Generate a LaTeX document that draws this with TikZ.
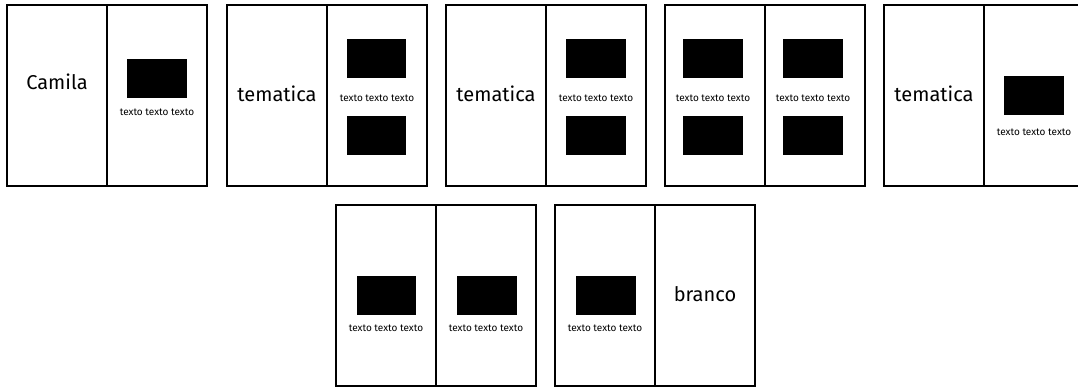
\documentclass[tikz,border=0pt]{standalone}
\usepackage{fontspec}
\setmainfont{Fira Sans}

\begin{document}
\begin{tikzpicture}[x=0.02cm, y=-0.02cm,
	pagina/.style={draw, line width=0.8pt},
	foto/.style={fill=black, inner sep=0pt, minimum width=1.2cm, minimum height=0.78cm},
	titulo/.style={font=\fontsize{11.4}{13}\selectfont, inner sep=0pt},
	legenda/.style={font=\fontsize{5.7}{7}\selectfont, inner sep=0pt}]
\useasboundingbox (0,0) rectangle (1078,387);
\clip (0,0) rectangle (1078,387);

	% Zeichnet die Doppelseiten oben und unten (linke und rechte Seite)
	\foreach \x in {7,227,446,665,884} {
		\draw[pagina] (\x,5) rectangle ++(200,181);
		\draw[pagina] (\x+100,5) -- (\x+100,186);
	}
	\foreach \x in {336,555} {
		\draw[pagina] (\x,205) rectangle ++(200,181);
		\draw[pagina] (\x+100,205) -- (\x+100,386);
	}

	% Doppelseite 1
	\node[titulo] (camila) at (57,82) {Camila};
	\node[foto] (foto1) at (157,78.5) {};
	\node[legenda] (legenda1) at (157,112) {texto texto texto};

	% Doppelseite 2
	\node[titulo] (tematica2) at (277,94) {tematica};
	\node[foto] (foto2a) at (376.5,58.5) {};
	\node[legenda] (legenda2) at (377,98) {texto texto texto};
	\node[foto] (foto2b) at (376.5,135.5) {};

	% Doppelseite 3
	\node[titulo] (tematica3) at (496,94) {tematica};
	\node[foto] (foto3a) at (595.5,58.5) {};
	\node[legenda] (legenda3) at (596,98) {texto texto texto};
	\node[foto] (foto3b) at (595.5,135.5) {};

	% Doppelseite 4
	\node[foto] (foto4a) at (712.5,58.5) {};
	\node[legenda] (legenda4a) at (713,98) {texto texto texto};
	\node[foto] (foto4b) at (712.5,135.5) {};
	\node[foto] (foto4c) at (812.5,58.5) {};
	\node[legenda] (legenda4b) at (813,98) {texto texto texto};
	\node[foto] (foto4d) at (812.5,135.5) {};

	% Doppelseite 5
	\node[titulo] (tematica5) at (934,94) {tematica};
	\node[foto] (foto5) at (1033.5,95.5) {};
	\node[legenda] (legenda5) at (1034,132) {texto texto texto};

	% Doppelseite 6 (unten)
	\node[foto] (foto6a) at (386.5,295.5) {};
	\node[legenda] (legenda6a) at (386,328) {texto texto texto};
	\node[foto] (foto6b) at (486.5,295.5) {};
	\node[legenda] (legenda6b) at (486,328) {texto texto texto};

	% Doppelseite 7 (unten)
	\node[foto] (foto7) at (605.5,295.5) {};
	\node[legenda] (legenda7) at (605,328) {texto texto texto};
	\node[titulo] (branco) at (705,294) {branco};

\end{tikzpicture}
\end{document}
